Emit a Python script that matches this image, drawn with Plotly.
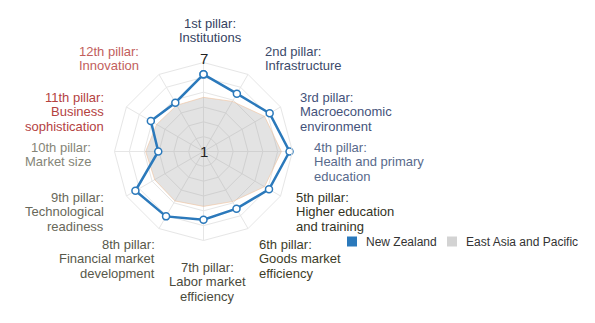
import plotly.graph_objects as go

# ---------------- data ----------------
categories = [
    "1st pillar: Institutions",
    "2nd pillar: Infrastructure",
    "3rd pillar: Macroeconomic environment",
    "4th pillar: Health and primary education",
    "5th pillar: Higher education and training",
    "6th pillar: Goods market efficiency",
    "7th pillar: Labor market efficiency",
    "8th pillar: Financial market development",
    "9th pillar: Technological readiness",
    "10th pillar: Market size",
    "11th pillar: Business sophistication",
    "12th pillar: Innovation",
]
label_lines = [
    ["1st pillar:", "Institutions"],
    ["2nd pillar:", "Infrastructure"],
    ["3rd pillar:", "Macroeconomic", "environment"],
    ["4th pillar:", "Health and primary", "education"],
    ["5th pillar:", "Higher education", "and training"],
    ["6th pillar:", "Goods market", "efficiency"],
    ["7th pillar:", "Labor market", "efficiency"],
    ["8th pillar:", "Financial market", "development"],
    ["9th pillar:", "Technological", "readiness"],
    ["10th pillar:", "Market size"],
    ["11th pillar:", "Business", "sophistication"],
    ["12th pillar:", "Innovation"],
]
new_zealand = [6.2, 5.5, 6.15, 6.8, 6.1, 5.45, 5.6, 6.05, 6.3, 4.05, 5.1, 4.8]
east_asia_pacific = [4.65, 4.9, 5.75, 6.25, 5.75, 4.9, 4.7, 4.85, 4.8, 4.9, 4.65, 4.6]
series_names = ["New Zealand", "East Asia and Pacific"]
radial_min, radial_max = 1, 7

# ---------------- styles / layout ----------------
W, H = 595, 323
CX, CY, R = 203.5, 151.5, 89.0

label_colors = ["#35425f", "#3c4a6a", "#44527a", "#586a8c",
                "#33331f", "#3d3d28", "#4a4a3c", "#58584a",
                "#68685a", "#858577", "#b4423f", "#c25e5c"]
# anchor (x px, first-line y px, xanchor) for each label block
label_anchor = [
    (210, 23, "center"), (263, 51.5, "left"), (298, 97.5, "left"),
    (311.5, 147.5, "left"), (294, 197.5, "left"), (257, 244.5, "left"),
    (207, 267.5, "center"), (156.5, 244.5, "right"), (105.5, 197.5, "right"),
    (92.5, 147.5, "right"), (105.5, 97.5, "right"), (141, 51.5, "right"),
]
LINE_GAP = 14.4

NZ_COLOR = "#2b79bb"
FONT = "Liberation Sans, Arial, sans-serif"


def px(x):
    return x / W


def py(y):
    return 1 - y / H


fig = go.Figure()

fig.add_trace(go.Scatterpolar(
    r=east_asia_pacific + east_asia_pacific[:1],
    theta=categories + categories[:1],
    mode="lines", fill="toself",
    fillcolor="rgba(150,150,150,0.27)",
    line=dict(color="rgba(240,190,150,0.55)", width=1),
    name=series_names[1], showlegend=False, hoverinfo="skip",
))
fig.add_trace(go.Scatterpolar(
    r=new_zealand + new_zealand[:1],
    theta=categories + categories[:1],
    mode="lines+markers",
    line=dict(color=NZ_COLOR, width=2.5),
    marker=dict(symbol="circle", size=7, color="white",
                line=dict(color=NZ_COLOR, width=1.5)),
    name=series_names[0], showlegend=False,
))

annotations = []
# radial-axis labels (min at centre, max just above the outer ring)
annotations.append(dict(text=str(radial_min), x=px(CX), y=py(CY), xref="paper", yref="paper",
                        xanchor="center", yanchor="middle", showarrow=False,
                        font=dict(family=FONT, size=15, color="#222222")))
annotations.append(dict(text=str(radial_max), x=px(CX), y=py(CY - R - 4), xref="paper", yref="paper",
                        xanchor="center", yanchor="middle", showarrow=False,
                        font=dict(family=FONT, size=15, color="#222222")))

for lines, (ax, ay, anc), col in zip(label_lines, label_anchor, label_colors):
    for i, t in enumerate(lines):
        annotations.append(dict(
            text=t, x=px(ax), y=py(ay + i * LINE_GAP), xref="paper", yref="paper",
            xanchor=anc, yanchor="middle", showarrow=False,
            font=dict(family=FONT, size=13, color=col),
        ))

# legend (custom, Highcharts-like)
legend_items = [(347, 364, NZ_COLOR, series_names[0]),
                (447, 464, "#d3d3d3", series_names[1])]
shapes = []
for sx, tx, col, name in legend_items:
    shapes.append(dict(type="rect", xref="paper", yref="paper",
                       x0=px(sx), x1=px(sx + 10), y0=py(236.5), y1=py(246.5),
                       fillcolor=col, line=dict(width=0)))
    annotations.append(dict(text=name, x=px(tx), y=py(241.5), xref="paper", yref="paper",
                            xanchor="left", yanchor="middle", showarrow=False,
                            font=dict(family=FONT, size=12, color="#333333")))

fig.update_layout(
    width=W, height=H, autosize=False,
    margin=dict(l=0, r=0, t=0, b=0),
    paper_bgcolor="white", plot_bgcolor="white",
    showlegend=False,
    polar=dict(
        domain=dict(x=[px(CX - R), px(CX + R)], y=[py(CY + R), py(CY - R)]),
        gridshape="linear",
        bgcolor="white",
        angularaxis=dict(
            rotation=90, direction="clockwise", type="category",
            categoryarray=categories, categoryorder="array",
            showticklabels=False, ticks="",
            showgrid=True, gridcolor="#e6e6e6", gridwidth=1,
            showline=True, linecolor="#e6e6e6", linewidth=1,
        ),
        radialaxis=dict(
            range=[radial_min, radial_max], tickvals=[2, 3, 4, 5, 6, 7],
            showticklabels=False, ticks="", showline=False,
            showgrid=True, gridcolor="#e6e6e6", gridwidth=1,
        ),
    ),
    annotations=annotations, shapes=shapes,
)

fig.write_html("out.html")
